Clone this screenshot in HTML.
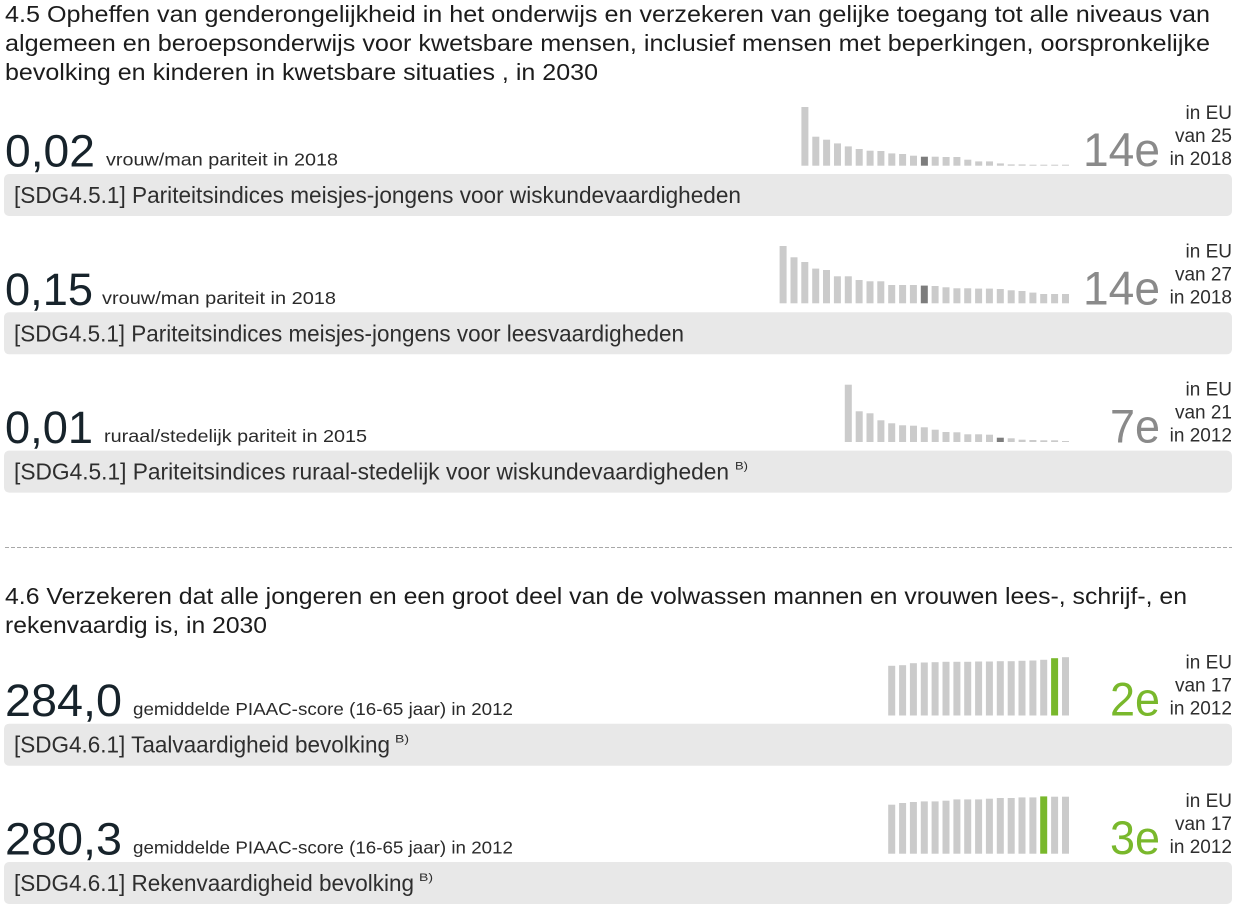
<!DOCTYPE html>
<html>
<head>
<meta charset="utf-8">
<style>
  html,body{margin:0;padding:0;background:#fff;}
  svg{display:block;}
  text{font-family:"Liberation Sans",Arial,sans-serif;}
  .t{font-size:23.5px;fill:#1c1c1c;}
  .big{font-size:45px;fill:#17232b;}
  .unit{font-size:17.5px;fill:#2a2a2a;}
  .box{font-size:23px;fill:#2e2e2e;}
  .sup{font-size:11px;fill:#2e2e2e;}
  .rk{font-size:47px;fill:#8a8a8a;}
  .rkg{font-size:47px;fill:#79b82c;}
  .sm{font-size:19px;fill:#2e2e2e;}
  .b{fill:#cbcbcb;}
  .d{fill:#7d7d7d;}
  .g{fill:#79b82c;}
  .bx{fill:#e8e8e8;}
</style>
</head>
<body>
<svg width="1237" height="912" viewBox="0 0 1237 912" xmlns="http://www.w3.org/2000/svg">
  <!-- Title 4.5 -->
  <text class="t" x="5" y="22" textLength="1205" lengthAdjust="spacingAndGlyphs">4.5 Opheffen van genderongelijkheid in het onderwijs en verzekeren van gelijke toegang tot alle niveaus van</text>
  <text class="t" x="5" y="51" textLength="1205" lengthAdjust="spacingAndGlyphs">algemeen en beroepsonderwijs voor kwetsbare mensen, inclusief mensen met beperkingen, oorspronkelijke</text>
  <text class="t" x="5" y="80" textLength="593" lengthAdjust="spacingAndGlyphs">bevolking en kinderen in kwetsbare situaties , in 2030</text>

  <!-- Row 1 (T=174) -->
  <text class="big" x="5" y="166.5" textLength="90" lengthAdjust="spacingAndGlyphs">0,02</text>
  <text class="unit" x="106" y="165.5" textLength="232" lengthAdjust="spacingAndGlyphs">vrouw/man pariteit in 2018</text>
  <rect class="bx" x="4" y="174" width="1228" height="42" rx="5"/>
  <text class="box" x="14" y="203" textLength="727" lengthAdjust="spacingAndGlyphs">[SDG4.5.1] Pariteitsindices meisjes-jongens voor wiskundevaardigheden</text>
  <text class="rk" x="1083" y="166" textLength="77" lengthAdjust="spacingAndGlyphs">14e</text>
  <text class="sm" x="1232" y="119" text-anchor="end">in EU</text>
  <text class="sm" x="1232" y="142" text-anchor="end">van 25</text>
  <text class="sm" x="1232" y="165" text-anchor="end">in 2018</text>
  <g>
    <rect class="b" x="801.4" y="107.0" width="7" height="58.7"/>
    <rect class="b" x="812.3" y="136.7" width="7" height="29"/>
    <rect class="b" x="823.1" y="139.7" width="7" height="26"/>
    <rect class="b" x="834.0" y="143.4" width="7" height="22.3"/>
    <rect class="b" x="844.8" y="146.4" width="7" height="19.3"/>
    <rect class="b" x="855.7" y="149.0" width="7" height="16.7"/>
    <rect class="b" x="866.6" y="150.7" width="7" height="15"/>
    <rect class="b" x="877.4" y="151.0" width="7" height="14.7"/>
    <rect class="b" x="888.3" y="153.4" width="7" height="12.3"/>
    <rect class="b" x="899.1" y="154.0" width="7" height="11.7"/>
    <rect class="b" x="910.0" y="155.7" width="7" height="10"/>
    <rect class="d" x="920.9" y="156.7" width="7" height="9"/>
    <rect class="b" x="931.7" y="156.7" width="7" height="9"/>
    <rect class="b" x="942.6" y="157.0" width="7" height="8.7"/>
    <rect class="b" x="953.4" y="157.0" width="7" height="8.7"/>
    <rect class="b" x="964.3" y="159.7" width="7" height="6"/>
    <rect class="b" x="975.2" y="161.4" width="7" height="4.3"/>
    <rect class="b" x="986.0" y="161.4" width="7" height="4.3"/>
    <rect class="b" x="996.9" y="163.4" width="7" height="2.3"/>
    <rect class="b" x="1007.7" y="164.4" width="7" height="1.3"/>
    <rect class="b" x="1018.6" y="164.4" width="7" height="1.3"/>
    <rect class="b" x="1029.5" y="164.7" width="7" height="1"/>
    <rect class="b" x="1040.3" y="164.7" width="7" height="1"/>
    <rect class="b" x="1051.2" y="164.7" width="7" height="1"/>
    <rect class="b" x="1062.0" y="164.7" width="7" height="1"/>
  </g>

  <!-- Row 2 (T=312.3) -->
  <text class="big" x="5" y="304.8" textLength="88" lengthAdjust="spacingAndGlyphs">0,15</text>
  <text class="unit" x="102" y="303.8" textLength="234" lengthAdjust="spacingAndGlyphs">vrouw/man pariteit in 2018</text>
  <rect class="bx" x="4" y="312.3" width="1228" height="42" rx="5"/>
  <text class="box" x="14" y="341.3" textLength="670" lengthAdjust="spacingAndGlyphs">[SDG4.5.1] Pariteitsindices meisjes-jongens voor leesvaardigheden</text>
  <text class="rk" x="1083" y="304.3" textLength="77" lengthAdjust="spacingAndGlyphs">14e</text>
  <text class="sm" x="1232" y="257.3" text-anchor="end">in EU</text>
  <text class="sm" x="1232" y="280.3" text-anchor="end">van 27</text>
  <text class="sm" x="1232" y="303.3" text-anchor="end">in 2018</text>
  <g>
    <rect class="b" x="779.6" y="246.0" width="7" height="57.3"/>
    <rect class="b" x="790.5" y="257.3" width="7" height="46"/>
    <rect class="b" x="801.3" y="262.0" width="7" height="41.3"/>
    <rect class="b" x="812.2" y="268.6" width="7" height="34.7"/>
    <rect class="b" x="823.0" y="270.0" width="7" height="33.3"/>
    <rect class="b" x="833.9" y="276.3" width="7" height="27"/>
    <rect class="b" x="844.8" y="276.3" width="7" height="27"/>
    <rect class="b" x="855.6" y="280.0" width="7" height="23.3"/>
    <rect class="b" x="866.5" y="281.3" width="7" height="22"/>
    <rect class="b" x="877.3" y="281.3" width="7" height="22"/>
    <rect class="b" x="888.2" y="285.0" width="7" height="18.3"/>
    <rect class="b" x="899.1" y="285.0" width="7" height="18.3"/>
    <rect class="b" x="909.9" y="285.0" width="7" height="18.3"/>
    <rect class="d" x="920.8" y="285.6" width="7" height="17.7"/>
    <rect class="b" x="931.6" y="286.0" width="7" height="17.3"/>
    <rect class="b" x="942.5" y="287.3" width="7" height="16"/>
    <rect class="b" x="953.4" y="288.3" width="7" height="15"/>
    <rect class="b" x="964.2" y="288.3" width="7" height="15"/>
    <rect class="b" x="975.1" y="288.6" width="7" height="14.7"/>
    <rect class="b" x="985.9" y="288.6" width="7" height="14.7"/>
    <rect class="b" x="996.8" y="289.0" width="7" height="14.3"/>
    <rect class="b" x="1007.7" y="290.3" width="7" height="13"/>
    <rect class="b" x="1018.5" y="291.0" width="7" height="12.3"/>
    <rect class="b" x="1029.4" y="292.6" width="7" height="10.7"/>
    <rect class="b" x="1040.2" y="294.0" width="7" height="9.3"/>
    <rect class="b" x="1051.1" y="294.0" width="7" height="9.3"/>
    <rect class="b" x="1062.0" y="294.0" width="7" height="9.3"/>
  </g>

  <!-- Row 3 (T=450.6) -->
  <text class="big" x="5" y="443.1" textLength="88" lengthAdjust="spacingAndGlyphs">0,01</text>
  <text class="unit" x="104" y="442.1" textLength="263" lengthAdjust="spacingAndGlyphs">ruraal/stedelijk pariteit in 2015</text>
  <rect class="bx" x="4" y="450.6" width="1228" height="42" rx="5"/>
  <text class="box" x="14" y="479.6" textLength="715" lengthAdjust="spacingAndGlyphs">[SDG4.5.1] Pariteitsindices ruraal-stedelijk voor wiskundevaardigheden</text>
  <text class="sup" x="735" y="469.6" textLength="13" lengthAdjust="spacingAndGlyphs">B)</text>
  <text class="rk" x="1110" y="442.6" textLength="50" lengthAdjust="spacingAndGlyphs">7e</text>
  <text class="sm" x="1232" y="395.6" text-anchor="end">in EU</text>
  <text class="sm" x="1232" y="418.6" text-anchor="end">van 21</text>
  <text class="sm" x="1232" y="441.6" text-anchor="end">in 2012</text>
  <g>
    <rect class="b" x="844.8" y="384.7" width="7" height="57.3"/>
    <rect class="b" x="855.7" y="411.3" width="7" height="30.7"/>
    <rect class="b" x="866.5" y="413.3" width="7" height="28.7"/>
    <rect class="b" x="877.4" y="420.3" width="7" height="21.7"/>
    <rect class="b" x="888.2" y="423.3" width="7" height="18.7"/>
    <rect class="b" x="899.1" y="425.3" width="7" height="16.7"/>
    <rect class="b" x="910.0" y="425.7" width="7" height="16.3"/>
    <rect class="b" x="920.8" y="427.3" width="7" height="14.7"/>
    <rect class="b" x="931.7" y="429.7" width="7" height="12.3"/>
    <rect class="b" x="942.5" y="432.0" width="7" height="10"/>
    <rect class="b" x="953.4" y="432.3" width="7" height="9.7"/>
    <rect class="b" x="964.3" y="434.3" width="7" height="7.7"/>
    <rect class="b" x="975.1" y="434.3" width="7" height="7.7"/>
    <rect class="b" x="986.0" y="434.7" width="7" height="7.3"/>
    <rect class="d" x="996.8" y="437.7" width="7" height="4.3"/>
    <rect class="b" x="1007.7" y="438.3" width="7" height="3.7"/>
    <rect class="b" x="1018.6" y="439.7" width="7" height="2.3"/>
    <rect class="b" x="1029.4" y="440.0" width="7" height="2"/>
    <rect class="b" x="1040.3" y="440.3" width="7" height="1.7"/>
    <rect class="b" x="1051.1" y="440.3" width="7" height="1.7"/>
    <rect class="b" x="1062.0" y="441.0" width="7" height="1"/>
  </g>

  <!-- Divider -->
  <line x1="5" y1="547.5" x2="1232" y2="547.5" stroke="#a8a8a8" stroke-width="1" stroke-dasharray="4 2"/>

  <!-- Title 4.6 -->
  <text class="t" x="5" y="604" textLength="1182" lengthAdjust="spacingAndGlyphs">4.6 Verzekeren dat alle jongeren en een groot deel van de volwassen mannen en vrouwen lees-, schrijf-, en</text>
  <text class="t" x="5" y="633" textLength="262" lengthAdjust="spacingAndGlyphs">rekenvaardig is, in 2030</text>

  <!-- Row 4 (T=723.7) -->
  <text class="big" x="5" y="716.2" textLength="117" lengthAdjust="spacingAndGlyphs">284,0</text>
  <text class="unit" x="133" y="715.2" textLength="380" lengthAdjust="spacingAndGlyphs">gemiddelde PIAAC-score (16-65 jaar) in 2012</text>
  <rect class="bx" x="4" y="723.7" width="1228" height="42" rx="5"/>
  <text class="box" x="14" y="752.7" textLength="376" lengthAdjust="spacingAndGlyphs">[SDG4.6.1] Taalvaardigheid bevolking</text>
  <text class="sup" x="395" y="742.7" textLength="14" lengthAdjust="spacingAndGlyphs">B)</text>
  <text class="rkg" x="1110" y="715.7" textLength="50" lengthAdjust="spacingAndGlyphs">2e</text>
  <text class="sm" x="1232" y="668.7" text-anchor="end">in EU</text>
  <text class="sm" x="1232" y="691.7" text-anchor="end">van 17</text>
  <text class="sm" x="1232" y="714.7" text-anchor="end">in 2012</text>
  <g>
    <rect class="b" x="888.2" y="665.8" width="7" height="49.7"/>
    <rect class="b" x="899.1" y="665.2" width="7" height="50.3"/>
    <rect class="b" x="909.9" y="663.2" width="7" height="52.3"/>
    <rect class="b" x="920.8" y="662.5" width="7" height="53"/>
    <rect class="b" x="931.6" y="662.2" width="7" height="53.3"/>
    <rect class="b" x="942.5" y="661.8" width="7" height="53.7"/>
    <rect class="b" x="953.4" y="661.8" width="7" height="53.7"/>
    <rect class="b" x="964.2" y="661.8" width="7" height="53.7"/>
    <rect class="b" x="975.1" y="661.5" width="7" height="54"/>
    <rect class="b" x="985.9" y="661.5" width="7" height="54"/>
    <rect class="b" x="996.8" y="661.2" width="7" height="54.3"/>
    <rect class="b" x="1007.7" y="661.2" width="7" height="54.3"/>
    <rect class="b" x="1018.5" y="660.8" width="7" height="54.7"/>
    <rect class="b" x="1029.4" y="660.5" width="7" height="55"/>
    <rect class="b" x="1040.2" y="659.8" width="7" height="55.7"/>
    <rect class="g" x="1051.1" y="658.2" width="7" height="57.3"/>
    <rect class="b" x="1062.0" y="657.2" width="7" height="58.3"/>
  </g>

  <!-- Row 5 (T=862) -->
  <text class="big" x="5" y="854.5" textLength="117" lengthAdjust="spacingAndGlyphs">280,3</text>
  <text class="unit" x="133" y="853.5" textLength="380" lengthAdjust="spacingAndGlyphs">gemiddelde PIAAC-score (16-65 jaar) in 2012</text>
  <rect class="bx" x="4" y="862" width="1228" height="42" rx="5"/>
  <text class="box" x="14" y="891" textLength="400" lengthAdjust="spacingAndGlyphs">[SDG4.6.1] Rekenvaardigheid bevolking</text>
  <text class="sup" x="419" y="881" textLength="14" lengthAdjust="spacingAndGlyphs">B)</text>
  <text class="rkg" x="1110" y="854" textLength="50" lengthAdjust="spacingAndGlyphs">3e</text>
  <text class="sm" x="1232" y="807" text-anchor="end">in EU</text>
  <text class="sm" x="1232" y="830" text-anchor="end">van 17</text>
  <text class="sm" x="1232" y="853" text-anchor="end">in 2012</text>
  <g>
    <rect class="b" x="888.2" y="804.7" width="7" height="49"/>
    <rect class="b" x="899.1" y="803.0" width="7" height="50.7"/>
    <rect class="b" x="909.9" y="802.0" width="7" height="51.7"/>
    <rect class="b" x="920.8" y="801.4" width="7" height="52.3"/>
    <rect class="b" x="931.6" y="801.4" width="7" height="52.3"/>
    <rect class="b" x="942.5" y="800.7" width="7" height="53"/>
    <rect class="b" x="953.4" y="799.4" width="7" height="54.3"/>
    <rect class="b" x="964.2" y="799.4" width="7" height="54.3"/>
    <rect class="b" x="975.1" y="799.4" width="7" height="54.3"/>
    <rect class="b" x="985.9" y="798.7" width="7" height="55"/>
    <rect class="b" x="996.8" y="798.0" width="7" height="55.7"/>
    <rect class="b" x="1007.7" y="798.0" width="7" height="55.7"/>
    <rect class="b" x="1018.5" y="797.4" width="7" height="56.3"/>
    <rect class="b" x="1029.4" y="797.4" width="7" height="56.3"/>
    <rect class="g" x="1040.2" y="796.4" width="7" height="57.3"/>
    <rect class="b" x="1051.1" y="796.7" width="7" height="57"/>
    <rect class="b" x="1062.0" y="796.7" width="7" height="57"/>
  </g>
</svg>
</body>
</html>
